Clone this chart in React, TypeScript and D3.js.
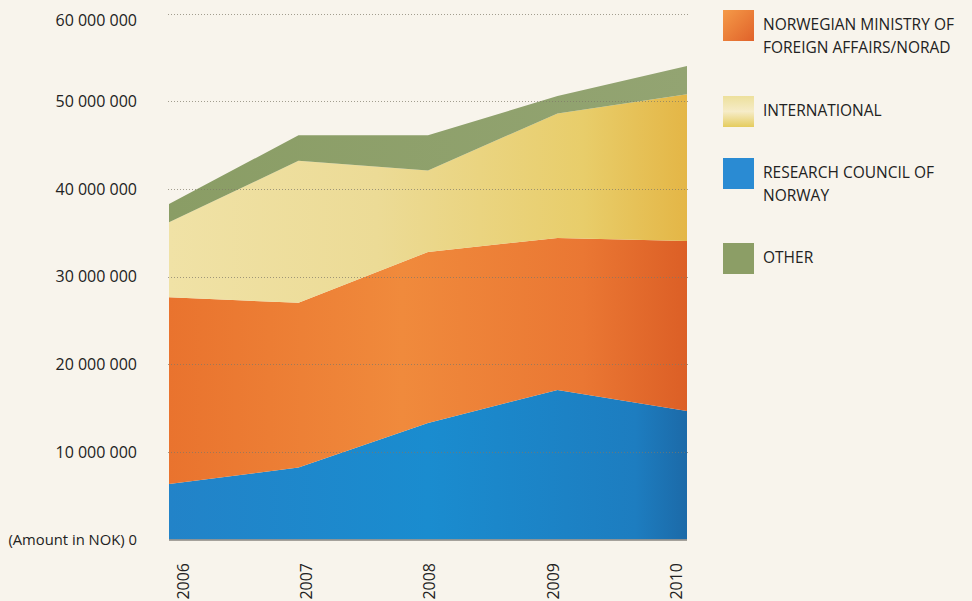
import { useEffect, useRef } from "react";
import * as d3 from "d3";

const years = ["2006", "2007", "2008", "2009", "2010"];
const research = [6.33, 8.2, 13.3, 17.05, 14.65];
const norad = [21.3, 18.8, 19.5, 17.35, 19.4];
const international = [8.55, 16.2, 9.3, 14.2, 16.75];
const other = [2.1, 2.9, 4.0, 2.0, 3.2];
const yTicks = [0, 10, 20, 30, 40, 50, 60];

const seriesKeys = ["research", "norad", "international", "other"];
const legendItems = [
  { key: "norad", lines: ["NORWEGIAN MINISTRY OF", "FOREIGN AFFAIRS/NORAD"] },
  { key: "international", lines: ["INTERNATIONAL"] },
  { key: "research", lines: ["RESEARCH COUNCIL OF", "NORWAY"] },
  { key: "other", lines: ["OTHER"] },
];

const W = 972;
const H = 601;
const FONT = "'Open Sans', sans-serif";

const fmt = (v) => (v === 0 ? "(Amount in NOK) 0" : d3.format(",")(v * 1e6).replace(/,/g, " "));

const App = () => {
  const ref = useRef(null);

  useEffect(() => {
    const svg = d3.select(ref.current);
    svg.selectAll("*").remove();

    const rows = years.map((y, i) => ({
      year: y,
      research: research[i],
      norad: norad[i],
      international: international[i],
      other: other[i],
    }));

    const x = d3.scalePoint(years, [169, 687]);
    const xLabel = d3.scalePoint(years, [183, 676]);
    const y = d3.scaleLinear([0, 60], [539.5, 13.5]);

    const defs = svg.append("defs");
    const grad = (id, stops, x2 = "100%", y2 = "0%") => {
      const g = defs.append("linearGradient").attr("id", id)
        .attr("x1", "0%").attr("y1", "0%").attr("x2", x2).attr("y2", y2);
      stops.forEach(([o, c]) => g.append("stop").attr("offset", o).attr("stop-color", c));
    };
    grad("g-norad", [["0%", "#e9732e"], ["45%", "#f08a3c"], ["80%", "#ea7733"], ["100%", "#dc5f26"]]);
    grad("g-international", [["0%", "#f0e2a6"], ["40%", "#ecdb96"], ["80%", "#e8cd6a"], ["100%", "#e4b646"]]);
    grad("g-research", [["0%", "#2283c8"], ["50%", "#1a8ccf"], ["90%", "#1d7dc0"], ["100%", "#1c6aa8"]]);
    grad("g-other", [["0%", "#8a9d65"], ["100%", "#93a472"]]);
    grad("l-norad", [["0%", "#f59a48"], ["100%", "#e0622a"]], "100%", "100%");
    grad("l-international", [["0%", "#ede09c"], ["50%", "#f6ecc8"], ["100%", "#e5cc5e"]], "0%", "100%");

    const fills = {
      norad: "url(#g-norad)",
      international: "url(#g-international)",
      research: "url(#g-research)",
      other: "url(#g-other)",
    };
    const legendFills = {
      norad: "url(#l-norad)",
      international: "url(#l-international)",
      research: "#2a8bd3",
      other: "#8c9e66",
    };

    // background
    svg.append("rect").attr("width", W).attr("height", H).attr("fill", "#f8f4ec");

    const stacked = d3.stack().keys(seriesKeys)(rows);
    const area = d3.area()
      .x((d) => x(d.data.year))
      .y0((d) => y(d[0]))
      .y1((d) => y(d[1]));

    svg.append("g")
      .selectAll("path")
      .data(stacked)
      .join("path")
      .attr("d", area)
      .attr("fill", (d) => fills[d.key]);

    // gridlines over areas
    svg.append("g")
      .selectAll("line")
      .data(yTicks.filter((t) => t > 0))
      .join("line")
      .attr("x1", 168)
      .attr("x2", 689)
      .attr("y1", (d) => Math.round(y(d)) + 0.5)
      .attr("y2", (d) => Math.round(y(d)) + 0.5)
      .attr("stroke", "#7d7868")
      .attr("stroke-opacity", 0.7)
      .attr("stroke-width", 1)
      .attr("stroke-dasharray", "1,2");

    // base axis line
    svg.append("line")
      .attr("x1", 169).attr("x2", 687)
      .attr("y1", y(0) + 0.5).attr("y2", y(0) + 0.5)
      .attr("stroke", "#8a8680").attr("stroke-width", 1.5);

    // y labels (top one sits a bit lower, as in the original)
    svg.append("g")
      .selectAll("text")
      .data(yTicks)
      .join("text")
      .attr("x", 137)
      .attr("y", (d) => Math.max(y(d), 20))
      .attr("dy", "0.36em")
      .attr("text-anchor", "end")
      .attr("font-family", FONT)
      .attr("font-size", (d) => (d === 0 ? 14.8 : 16))
      .attr("fill", "#222")
      .text(fmt);

    // x labels
    svg.append("g")
      .selectAll("text")
      .data(years)
      .join("text")
      .attr("transform", (d) => `translate(${xLabel(d)},563) rotate(-90)`)
      .attr("text-anchor", "end")
      .attr("dy", "0.36em")
      .attr("font-family", FONT)
      .attr("font-size", 16)
      .attr("fill", "#222")
      .text((d) => d);

    // legend
    const legendY = [10, 96, 158, 243];
    const lg = svg.append("g")
      .selectAll("g")
      .data(legendItems)
      .join("g")
      .attr("transform", (d, i) => `translate(723,${legendY[i]})`);
    lg.append("rect")
      .attr("width", 31).attr("height", 31)
      .attr("fill", (d) => legendFills[d.key]);
    lg.each(function (d) {
      const t = d3.select(this).append("text")
        .attr("font-family", FONT)
        .attr("font-size", 15.5)
        .attr("fill", "#222");
      d.lines.forEach((line, j) => {
        t.append("tspan").attr("x", 40).attr("y", 19.5 + j * 23).text(line);
      });
    });
  }, []);

  return (
    <svg
      ref={ref}
      width={W}
      height={H}
      style={{ position: "absolute", left: 0, top: 0, display: "block" }}
    />
  );
};

export default App;
